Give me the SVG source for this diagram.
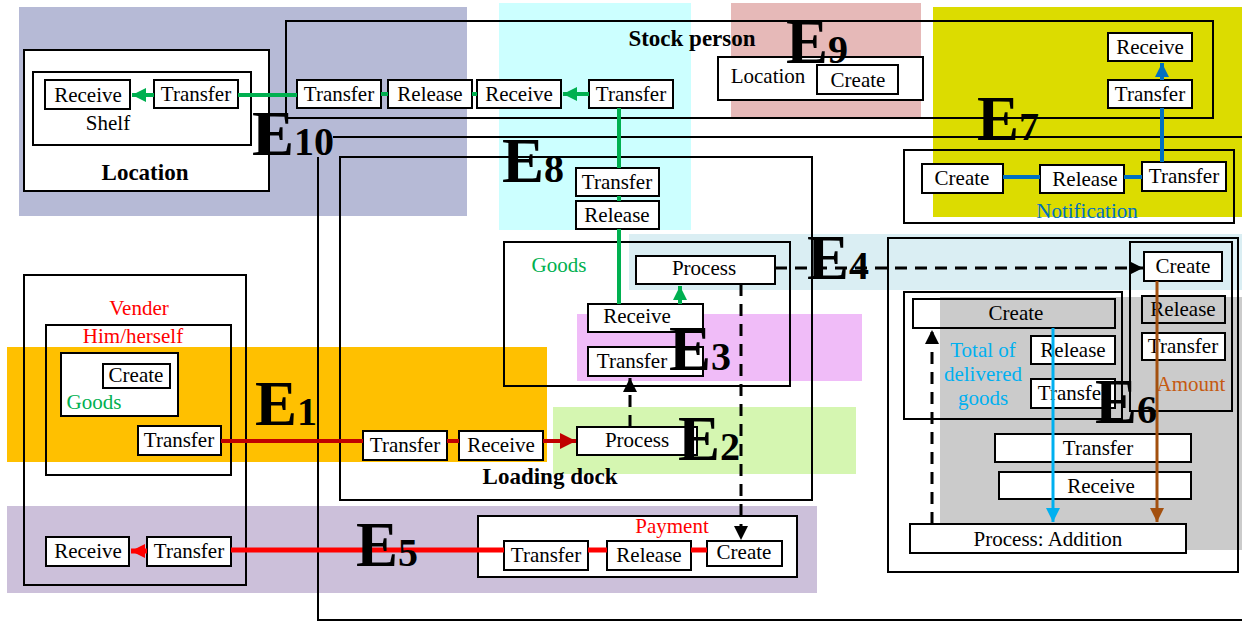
<svg xmlns="http://www.w3.org/2000/svg" width="1242" height="622" viewBox="0 0 1242 622">
<defs>
<style>
text{font-family:"Liberation Serif","DejaVu Serif",serif;}
.n{fill:#fff;stroke:#000;stroke-width:2;}
.o{fill:none;stroke:#000;stroke-width:2;}
.t{font-size:21px;text-anchor:middle;fill:#000;}
.b{font-size:23px;font-weight:bold;text-anchor:middle;fill:#000;}
.E{font-size:63px;font-weight:bold;fill:#000;}
.E tspan{font-size:40px;}
.g{stroke:#00b050;stroke-width:4;fill:none;}
.bl{stroke:#0070c0;stroke-width:4;fill:none;}
.dr{stroke:#c00000;stroke-width:4;fill:none;}
.rr{stroke:#ff0000;stroke-width:5;fill:none;}
.cy{stroke:#00b0f0;stroke-width:3;fill:none;}
.br{stroke:#a3500f;stroke-width:3;fill:none;}
.dk{stroke:#000;stroke-width:3;fill:none;stroke-dasharray:12 8;}
</style>
<marker id="mG" viewBox="0 0 12 12" refX="12" refY="6" markerWidth="14" markerHeight="14" markerUnits="userSpaceOnUse" orient="auto"><path d="M0,0L12,6L0,12z" fill="#00b050"/></marker>
<marker id="mB" viewBox="0 0 12 12" refX="12" refY="6" markerWidth="14" markerHeight="14" markerUnits="userSpaceOnUse" orient="auto"><path d="M0,0L12,6L0,12z" fill="#0070c0"/></marker>
<marker id="mDR" viewBox="0 0 12 12" refX="12" refY="6" markerWidth="16" markerHeight="16" markerUnits="userSpaceOnUse" orient="auto"><path d="M0,0L12,6L0,12z" fill="#c00000"/></marker>
<marker id="mRR" viewBox="0 0 12 12" refX="12" refY="6" markerWidth="14" markerHeight="14" markerUnits="userSpaceOnUse" orient="auto"><path d="M0,0L12,6L0,12z" fill="#ff0000"/></marker>
<marker id="mK" viewBox="0 0 12 12" refX="12" refY="6" markerWidth="14" markerHeight="14" markerUnits="userSpaceOnUse" orient="auto"><path d="M0,0L12,6L0,12z" fill="#000"/></marker>
<marker id="mC" viewBox="0 0 12 12" refX="12" refY="6" markerWidth="14" markerHeight="14" markerUnits="userSpaceOnUse" orient="auto"><path d="M0,0L12,6L0,12z" fill="#00b0f0"/></marker>
<marker id="mBr" viewBox="0 0 12 12" refX="12" refY="6" markerWidth="14" markerHeight="14" markerUnits="userSpaceOnUse" orient="auto"><path d="M0,0L12,6L0,12z" fill="#a3500f"/></marker>
</defs>
<rect width="1242" height="622" fill="#fff"/>
<g id="backgrounds">
<rect x="19" y="7" width="448" height="209" fill="#b6bad6"/>
<rect x="499" y="3" width="192" height="227" fill="#ccffff"/>
<rect x="731" y="3" width="190" height="115" fill="#e6b9b8"/>
<rect x="933" y="7" width="309" height="210" fill="#dcdc00"/>
<rect x="629" y="234" width="613" height="56" fill="#daeef3"/>
<rect x="577" y="314" width="285" height="67" fill="#f0bcf8"/>
<rect x="553" y="407" width="303" height="67" fill="#d5f6b1"/>
<rect x="7" y="347" width="540" height="115" fill="#ffc000"/>
<rect x="7" y="506" width="810" height="87" fill="#ccc0da"/>
<rect x="940" y="297" width="302" height="253" fill="#cbcbcb"/>
</g>
<g id="frames">
<path class="o" d="M333,137H1242M318,157V620H1242"/>
</g>
<g id="location">
<rect class="n" x="24" y="50" width="245" height="141"/>
<text class="b" x="145" y="180">Location</text>
<rect class="n" x="33" y="72" width="218" height="73"/>
<text class="t" x="108" y="130">Shelf</text>
<rect class="n" x="45" y="80" width="85" height="29"/>
<text class="t" x="88" y="102">Receive</text>
<rect class="n" x="154" y="80" width="84" height="28"/>
<text class="t" x="196" y="101">Transfer</text>
</g>
<g id="stock-person">
<rect class="o" x="286" y="21" width="927" height="97"/>
<text class="b" x="692" y="46">Stock person</text>
<rect class="n" x="297" y="80" width="84" height="28"/>
<text class="t" x="339" y="101">Transfer</text>
<rect class="n" x="388" y="80" width="84" height="28"/>
<text class="t" x="430" y="101">Release</text>
<rect class="n" x="477" y="80" width="84" height="28"/>
<text class="t" x="519" y="101">Receive</text>
<rect class="n" x="589" y="80" width="84" height="28"/>
<text class="t" x="631" y="101">Transfer</text>
</g>
<g id="e8-nodes">
<rect class="n" x="576" y="168" width="83" height="28"/>
<text class="t" x="617" y="189">Transfer</text>
<rect class="n" x="576" y="201" width="83" height="28"/>
<text class="t" x="617" y="222">Release</text>
</g>
<g id="e9-location">
<rect class="n" x="718" y="57" width="205" height="43"/>
<text class="t" x="768" y="83">Location</text>
<rect class="n" x="817" y="65" width="81" height="29"/>
<text class="t" x="858" y="87">Create</text>
</g>
<g id="notification">
<rect class="n" x="1108" y="33" width="84" height="28"/>
<text class="t" x="1150" y="54">Receive</text>
<rect class="n" x="1108" y="80" width="84" height="28"/>
<text class="t" x="1150" y="101">Transfer</text>
<rect class="o" x="904" y="150" width="330" height="73"/>
<rect class="n" x="922" y="164" width="81" height="29"/>
<text class="t" x="962" y="185">Create</text>
<rect class="n" x="1040" y="165" width="84" height="28"/>
<text class="t" x="1085" y="186">Release</text>
<rect class="n" x="1142" y="162" width="84" height="29"/>
<text class="t" x="1184" y="183">Transfer</text>
<text class="t" x="1087" y="218" style="fill:#0070c0">Notification</text>
</g>
<g id="vender">
<rect class="o" x="24" y="275" width="222" height="310"/>
<text class="t" x="139" y="315" style="fill:#ff0000">Vender</text>
<rect class="o" x="46" y="325" width="185" height="150"/>
<text class="t" x="133" y="343" style="fill:#ff0000">Him/herself</text>
<rect class="n" x="61" y="353" width="117" height="63"/>
<rect class="n" x="103" y="364" width="67" height="24"/>
<text class="t" x="136" y="382">Create</text>
<text class="t" x="94" y="409" style="fill:#00b050">Goods</text>
<rect class="n" x="138" y="426" width="83" height="29"/>
<text class="t" x="179" y="447">Transfer</text>
</g>
<g id="loading-dock">
<rect class="o" x="340" y="157" width="472" height="343"/>
<text class="b" x="550" y="484">Loading dock</text>
<rect class="o" x="504" y="242" width="286" height="144"/>
<text class="t" x="559" y="272" style="fill:#00b050">Goods</text>
<rect class="n" x="636" y="256" width="139" height="28"/>
<text class="t" x="704" y="275">Process</text>
<rect class="n" x="588" y="304" width="115" height="28"/>
<text class="t" x="637" y="323">Receive</text>
<rect class="n" x="588" y="347" width="115" height="29"/>
<text class="t" x="632" y="368">Transfer</text>
<rect class="n" x="577" y="427" width="120" height="28"/>
<text class="t" x="637" y="447">Process</text>
<rect class="n" x="363" y="431" width="84" height="29"/>
<text class="t" x="405" y="452">Transfer</text>
<rect class="n" x="459" y="431" width="84" height="29"/>
<text class="t" x="501" y="452">Receive</text>
</g>
<g id="payment">
<rect class="n" x="46" y="537" width="83" height="29"/>
<text class="t" x="88" y="558">Receive</text>
<rect class="n" x="147" y="537" width="84" height="29"/>
<text class="t" x="189" y="558">Transfer</text>
<rect class="n" x="478" y="516" width="319" height="61"/>
<text class="t" x="672" y="533" style="fill:#ff0000">Payment</text>
<rect class="n" x="504" y="541" width="84" height="29"/>
<text class="t" x="546" y="562">Transfer</text>
<rect class="n" x="607" y="541" width="84" height="29"/>
<text class="t" x="649" y="562">Release</text>
<rect class="n" x="707" y="541" width="75" height="25"/>
<text class="t" x="744" y="559">Create</text>
</g>
<g id="addition">
<rect class="o" x="888" y="238" width="350" height="334"/>
<rect class="o" x="1130" y="242" width="102" height="169"/>
<rect class="n" x="1144" y="252" width="78" height="29"/>
<text class="t" x="1183" y="273">Create</text>
<rect class="o" x="1142" y="296" width="83" height="27"/>
<text class="t" x="1183" y="316">Release</text>
<rect class="n" x="1142" y="333" width="83" height="27"/>
<text class="t" x="1183" y="353">Transfer</text>
<text class="t" x="1191" y="391" style="fill:#c55a11">Amount</text>
<rect class="o" x="904" y="292" width="218" height="127"/>
<rect class="o" x="913" y="299" width="202" height="29"/>
<text class="t" x="1016" y="320">Create</text>
<rect class="n" x="1031" y="336" width="84" height="28"/>
<text class="t" x="1073" y="357">Release</text>
<rect class="n" x="1031" y="379" width="84" height="29"/>
<text class="t" x="1073" y="400">Transfer</text>
<text class="t" x="983" y="357" style="fill:#00b0f0">Total of</text>
<text class="t" x="983" y="381" style="fill:#00b0f0">delivered</text>
<text class="t" x="983" y="405" style="fill:#00b0f0">goods</text>
<rect class="n" x="995" y="434" width="196" height="28"/>
<text class="t" x="1098" y="455">Transfer</text>
<rect class="n" x="999" y="472" width="192" height="27"/>
<text class="t" x="1101" y="493">Receive</text>
<rect class="n" x="910" y="524" width="276" height="29"/>
<text class="t" x="1048" y="546">Process: Addition</text>
</g>
<g id="connectors">
<path class="g" d="M154,95H132" marker-end="url(#mG)"/>
<path class="g" d="M238,95H297M381,94H388M472,94H477"/>
<path class="g" d="M589,94H563" marker-end="url(#mG)"/>
<path class="g" d="M619,108V168M619,196V201M619,229V304"/>
<path class="g" d="M680,304V286" marker-end="url(#mG)"/>
<path class="dk" d="M630,427V378" marker-end="url(#mK)"/>
<path class="dk" d="M741,284V540" marker-end="url(#mK)"/>
<path class="dk" d="M775,268H1143" marker-end="url(#mK)"/>
<path class="dr" d="M221,441H363M447,441H459"/>
<path class="dr" d="M543,441H576" marker-end="url(#mDR)"/>
<path class="rr" d="M707,550H691M607,550H588M504,550H231"/>
<path class="rr" d="M147,551H131" marker-end="url(#mRR)"/>
<path class="bl" d="M1003,177H1040M1124,177H1142M1162,162V108"/>
<path class="bl" d="M1162,80V63" marker-end="url(#mB)"/>
<path class="cy" d="M1053,328V522" marker-end="url(#mC)"/>
<path class="br" d="M1157,281V522" marker-end="url(#mBr)"/>
<path class="dk" d="M932,524V330" marker-end="url(#mK)"/>
</g>
<g id="labels">
<text class="E" x="252" y="155">E<tspan>10</tspan></text>
<text class="E" x="502" y="182">E<tspan>8</tspan></text>
<text class="E" x="786" y="63">E<tspan>9</tspan></text>
<text class="E" x="977" y="140">E<tspan>7</tspan></text>
<text class="E" x="807" y="279">E<tspan>4</tspan></text>
<text class="E" x="669" y="370">E<tspan>3</tspan></text>
<text class="E" x="678" y="460">E<tspan>2</tspan></text>
<text class="E" x="255" y="425">E<tspan>1</tspan></text>
<text class="E" x="356" y="566">E<tspan>5</tspan></text>
<text class="E" x="1095" y="423">E<tspan>6</tspan></text>
</g>
</svg>
